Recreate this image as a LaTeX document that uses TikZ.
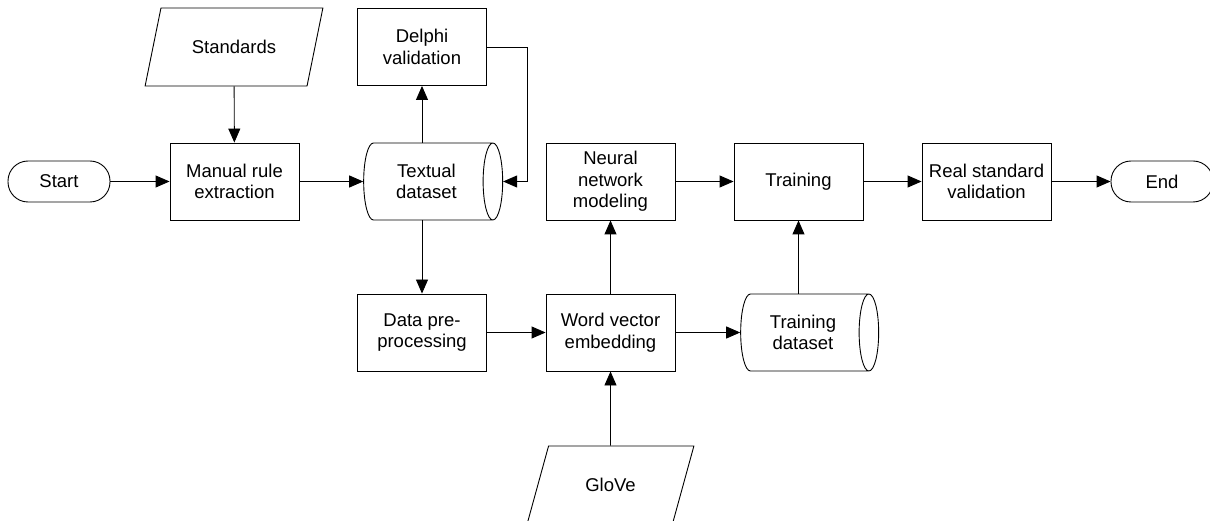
\documentclass[tikz,border=0pt]{standalone}
\usepackage{fontspec}
\setmainfont{Liberation Sans}
\usepackage{tikz}
\usetikzlibrary{shapes,arrows.meta,positioning,calc}

\begin{document}
\begin{tikzpicture}[
    x=1pt,y=-1pt,
    proc/.style  = {rectangle,draw,fill=white,align=center,line width=0.9pt,
                    font=\fontsize{18.5}{21.5}\selectfont,
                    minimum width=129pt,minimum height=77pt,inner sep=2pt},
    store/.style = {cylinder,draw,fill=white,align=center,line width=0.9pt,
                    font=\fontsize{18.5}{21.5}\selectfont,shape aspect=0.5,
                    minimum height=138pt,minimum width=77pt,inner sep=2pt},
    io/.style    = {trapezium,trapezium left angle=64,trapezium right angle=116,
                    trapezium stretches=true,draw,fill=white,line width=0.9pt,
                    font=\fontsize{18.5}{21.5}\selectfont,minimum height=78pt},
    term/.style  = {rectangle,rounded corners=20pt,draw,fill=white,line width=0.9pt,
                    font=\fontsize{18.5}{21.5}\selectfont,
                    minimum width=102pt,minimum height=41pt},
    fl/.style    = {-{Triangle[length=14pt,width=12pt]},line width=0.9pt},
  ]

  \clip (0,0) rectangle (1210,521);

  \node[term] (start) at (59,181.5)    {Start};
  \node[proc] (mre)   at (234.5,181.5) {Manual rule\\extraction};
  \node[io,minimum width=178pt] (std) at (234,47) {Standards};
  \node[proc] (dlp)   at (422,47)      {Delphi\\validation};
  \node[store,minimum height=139pt] (tds) at (426.5,181.5) {Textual\\dataset};
  \node[proc] (dpp)   at (422,332.5)   {Data pre-\\processing};
  \node[proc] (wve)   at (610.5,332.5) {Word vector\\embedding};
  \node[proc] (nnm)   at (610.5,181.5) {Neural\\network\\modeling};
  \node[store] (trd)  at (803,332.5)   {Training\\dataset};
  \node[proc] (trn)   at (798.5,181.5) {Training};
  \node[proc] (rsv)   at (986.5,181.5) {Real standard\\validation};
  \node[term] (end)   at (1162,181.5)  {End};
  \node[io,minimum width=167pt] (glv) at (610.5,485) {GloVe};

  \draw[fl] (start) -- (mre);
  \draw[fl] (std) -- (mre);
  \draw[fl] (mre) -- (tds.west);
  \draw[fl] (dlp.south |- tds.north) -- (dlp);
  \draw[fl] (dlp.east) -- ++(40,0) |- (tds.east);
  \draw[fl] (dpp.north |- tds.south) -- (dpp);
  \draw[fl] (dpp) -- (wve);
  \draw[fl] (wve) -- (nnm);
  \draw[fl] (glv.north) -- (wve);
  \draw[fl] (wve) -- (trd.west);
  \draw[fl] (trn.south |- trd.north) -- (trn);
  \draw[fl] (nnm) -- (trn);
  \draw[fl] (trn) -- (rsv);
  \draw[fl] (rsv) -- (end);

\end{tikzpicture}
\end{document}
